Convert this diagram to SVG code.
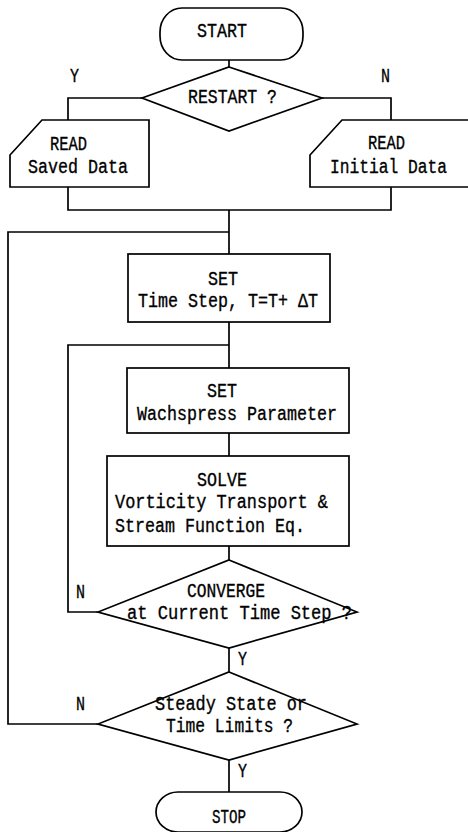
<svg xmlns="http://www.w3.org/2000/svg" width="468" height="832" viewBox="0 0 468 832">
<style>
.s{fill:none;stroke:#000;stroke-width:1.7;stroke-linejoin:miter}
.c{fill:none;stroke:#000;stroke-width:1.7}
text{font-family:"Liberation Mono","DejaVu Sans Mono",monospace;font-size:20px;fill:#000;stroke:#000;stroke-width:0.35}
</style>
<rect width="468" height="832" fill="#fff"/>
<g id="connectors">
<path class="c" d="M229 60V67"/>
<path class="c" d="M142 98H68V120"/>
<path class="c" d="M322 98H391V120"/>
<path class="c" d="M68 187V210H391V187"/>
<path class="c" d="M229 210V254"/>
<path class="c" d="M229 232H8V724H98"/>
<path class="c" d="M229 322V368"/>
<path class="c" d="M229 345H68V612H98"/>
<path class="c" d="M229 433V456"/>
<path class="c" d="M229 546V560"/>
<path class="c" d="M229 648V672"/>
<path class="c" d="M229 760V792"/>
</g>
<g id="start">
<rect class="s" x="160" y="8" width="143" height="52" rx="22" ry="24"/>
<text x="197" y="37" textLength="50" lengthAdjust="spacingAndGlyphs">START</text>
</g>
<g id="restart">
<path class="s" d="M229 67L322 98L229 131L142 98Z"/>
<text x="188" y="103" textLength="89" lengthAdjust="spacingAndGlyphs">RESTART ?</text>
<text x="70" y="82" textLength="9" lengthAdjust="spacingAndGlyphs">Y</text>
<text x="381" y="82" textLength="9" lengthAdjust="spacingAndGlyphs">N</text>
</g>
<g id="read-saved">
<path class="s" d="M42 120H149V187H10V155Z"/>
<text x="50" y="150" textLength="37" lengthAdjust="spacingAndGlyphs">READ</text>
<text x="28" y="173" textLength="100" lengthAdjust="spacingAndGlyphs">Saved Data</text>
</g>
<g id="read-initial">
<path class="s" d="M342 120H472V187H310V155Z"/>
<text x="368" y="149" textLength="37" lengthAdjust="spacingAndGlyphs">READ</text>
<text x="330" y="173" textLength="117" lengthAdjust="spacingAndGlyphs">Initial Data</text>
</g>
<g id="set-time">
<rect class="s" x="128" y="254" width="202" height="68"/>
<text x="208" y="285" textLength="30" lengthAdjust="spacingAndGlyphs">SET</text>
<text x="138" y="307" textLength="180" lengthAdjust="spacingAndGlyphs">Time Step, T=T+ ΔT</text>
</g>
<g id="set-wachspress">
<rect class="s" x="127" y="368" width="222" height="65"/>
<text x="207" y="397" textLength="30" lengthAdjust="spacingAndGlyphs">SET</text>
<text x="137" y="420" textLength="200" lengthAdjust="spacingAndGlyphs">Wachspress Parameter</text>
</g>
<g id="solve">
<rect class="s" x="107" y="456" width="242" height="90"/>
<text x="197" y="486" textLength="50" lengthAdjust="spacingAndGlyphs">SOLVE</text>
<text x="115" y="508" textLength="213" lengthAdjust="spacingAndGlyphs">Vorticity Transport &amp;</text>
<text x="115" y="532" textLength="190" lengthAdjust="spacingAndGlyphs">Stream Function Eq.</text>
</g>
<g id="converge">
<path class="s" d="M229 560L357 612L229 648L98 612Z"/>
<text x="187" y="597" textLength="78" lengthAdjust="spacingAndGlyphs">CONVERGE</text>
<text x="127" y="619" textLength="225" lengthAdjust="spacingAndGlyphs">at Current Time Step ?</text>
<text x="76" y="598" textLength="9" lengthAdjust="spacingAndGlyphs">N</text>
<text x="238" y="665" textLength="9" lengthAdjust="spacingAndGlyphs">Y</text>
</g>
<g id="steady">
<path class="s" d="M229 672L357 724L229 760L98 724Z"/>
<text x="155" y="710" textLength="152" lengthAdjust="spacingAndGlyphs">Steady State or</text>
<text x="166" y="732" textLength="127" lengthAdjust="spacingAndGlyphs">Time Limits ?</text>
<text x="76" y="710" textLength="9" lengthAdjust="spacingAndGlyphs">N</text>
<text x="238" y="777" textLength="9" lengthAdjust="spacingAndGlyphs">Y</text>
</g>
<g id="stop">
<rect class="s" x="156" y="792" width="146" height="40" rx="22" ry="20"/>
<text x="212" y="823" textLength="34" lengthAdjust="spacingAndGlyphs">STOP</text>
</g>
</svg>
